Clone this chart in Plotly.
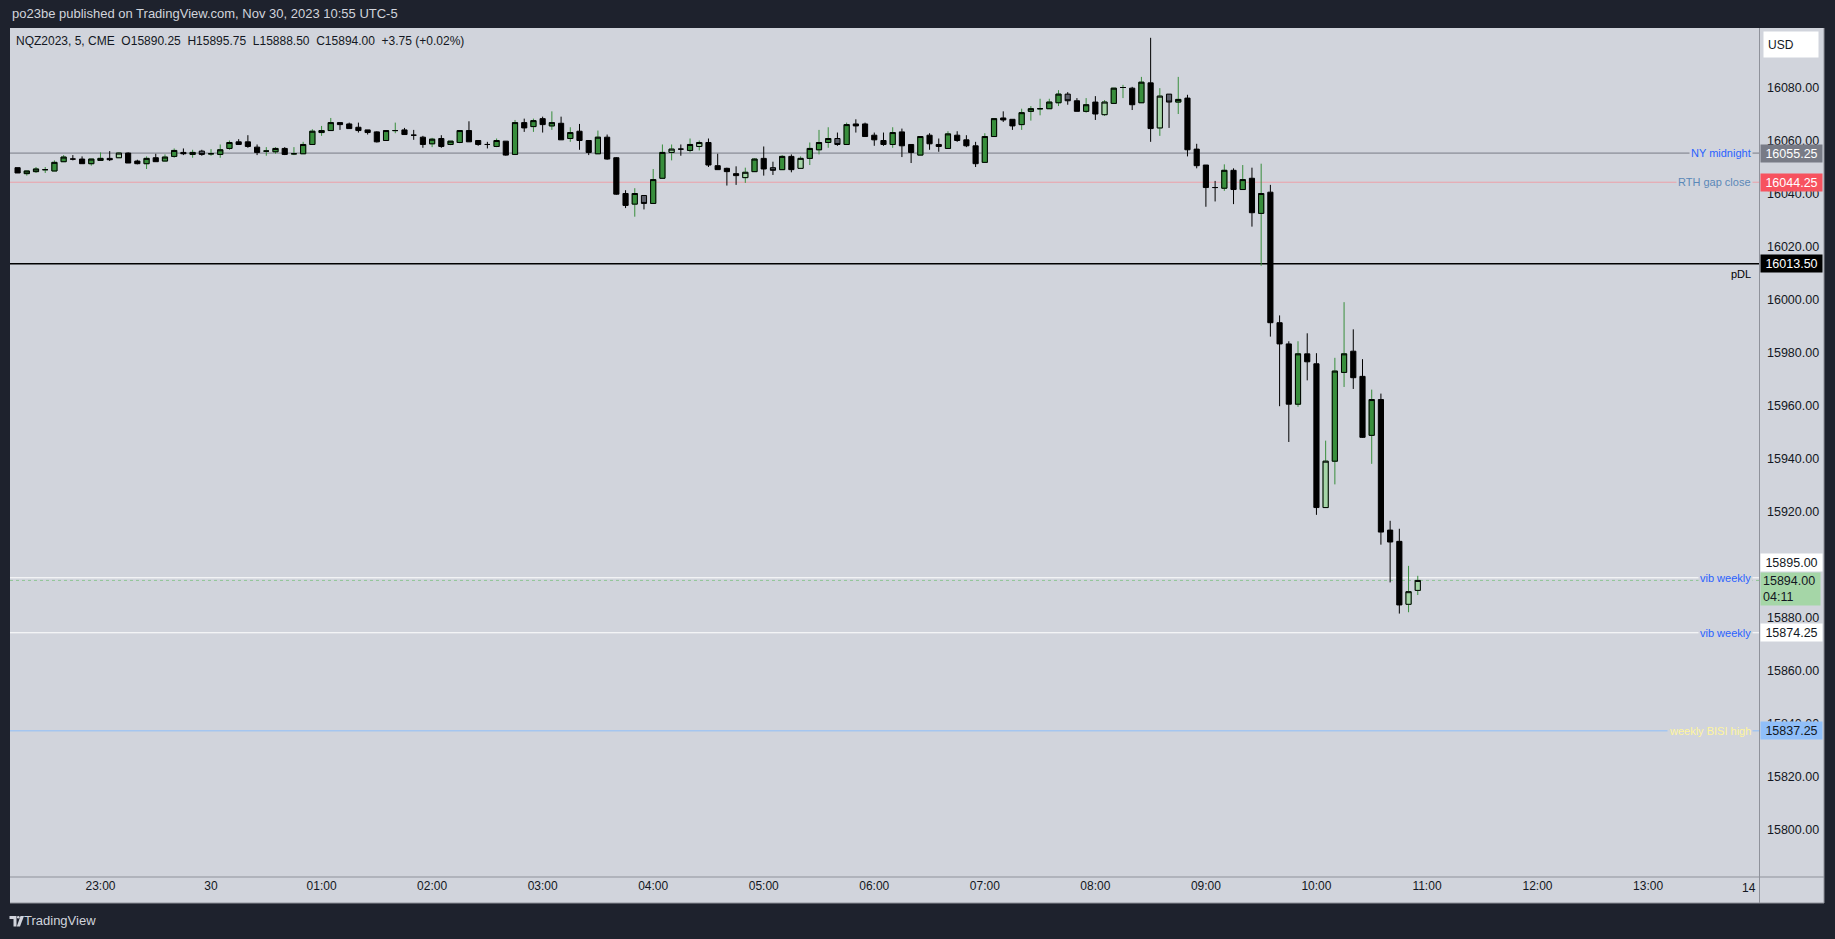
import plotly.graph_objects as go
import pandas as pd

# ---------------- data ----------------
bar_start = "2023-11-29 22:15"
bar_minutes = 5

opens = [
    16049.75, 16047.5, 16048.25, 16049, 16048.5, 16052, 16053, 16053, 16051.25, 16052.5,
    16053.25, 16053.5, 16055.25, 16052.25, 16051.25, 16053.5, 16052.25, 16054, 16055.5, 16054.75,
    16056, 16055, 16054.75, 16057, 16059.5, 16059.5, 16057.5, 16056, 16055.75, 16057,
    16055, 16055, 16058.5, 16063, 16063.75, 16066.75, 16066.25, 16065, 16064, 16063.25,
    16060, 16063.75, 16064, 16062, 16061.25, 16058.75, 16060.75, 16058.5, 16059.25, 16063.75,
    16060, 16058.5, 16057.75, 16059.75, 16054.75, 16066.75, 16065.25, 16068.25, 16065.5, 16066.5,
    16060.75, 16063.5, 16060, 16055, 16061.25, 16053.5, 16040, 16036, 16039.25, 16036.25,
    16045.75, 16055.5, 16056.75, 16056.25, 16057.75, 16059.25, 16050.5, 16049.5, 16047.5, 16046,
    16048.25, 16053.25, 16049.75, 16049, 16054, 16049.5, 16053.25, 16056.5, 16059.25, 16060.75,
    16058.5, 16066.25, 16066.25, 16062, 16060, 16058.5, 16063.25, 16058.5, 16054.5, 16062,
    16058.5, 16057, 16062, 16060.25, 16058, 16051.75, 16061.5, 16068.5, 16068, 16066,
    16071, 16072, 16072, 16074.25, 16077.5, 16075, 16071, 16074.5, 16069.75, 16074,
    16080, 16079.75, 16074.25, 16081.75, 16064.75, 16077.5, 16074.5, 16076, 16056.75, 16050.75,
    16042.25, 16042, 16048.75, 16041.5, 16045.75, 16032.5, 16040.5, 15991.25, 15983.25, 15960.5,
    15979.5, 15975.75, 15921.5, 15939, 15972.5, 15980.5, 15971, 15948.75, 15962.25, 15913,
    15908.75, 15885, 15890.25,
]
highs = [
    16049.75, 16048.5, 16050, 16050, 16052.5, 16054.5, 16054.5, 16054, 16053, 16055.5,
    16056, 16055.5, 16055.5, 16052.75, 16054, 16055, 16054.75, 16057, 16057, 16056.5,
    16056.5, 16056.75, 16058.5, 16060, 16060.5, 16062, 16058.5, 16057.5, 16057.5, 16057.5,
    16057.5, 16059.5, 16064.25, 16065.5, 16068.5, 16066.75, 16066.75, 16066.75, 16064, 16063.5,
    16063.75, 16066.75, 16064.75, 16064, 16061.75, 16061, 16062, 16059.75, 16063.75, 16067.25,
    16060, 16059.5, 16060.75, 16059.75, 16067.75, 16068.25, 16068.25, 16069, 16071, 16069,
    16065, 16066.25, 16060, 16063.75, 16062.25, 16053.75, 16041.25, 16042, 16039.25, 16049.25,
    16058.5, 16058.5, 16058.5, 16060.75, 16060, 16060.75, 16055, 16049.75, 16050.25, 16049.75,
    16053.25, 16057.75, 16052, 16054.5, 16054.75, 16054, 16059.25, 16064, 16065, 16063,
    16066.75, 16068, 16066.75, 16063, 16063, 16065, 16064.5, 16058.5, 16061.5, 16062.75,
    16060.75, 16063.5, 16063.5, 16062, 16059.5, 16062.75, 16068.25, 16071, 16068, 16072,
    16073, 16075.75, 16075.75, 16079, 16078.25, 16076, 16076, 16076.75, 16075.25, 16079.75,
    16081, 16080.25, 16084, 16098.75, 16079.75, 16077.5, 16084, 16077.25, 16058.75, 16050.75,
    16044.75, 16051, 16049.5, 16050.75, 16049.75, 16051.25, 16043.25, 15994, 15984.25, 15984.25,
    15987.25, 15979.75, 15946.75, 15978, 15999, 15988.75, 15977.5, 15966, 15964.5, 15916.5,
    15913.5, 15899.5, 15895.75,
]
lows = [
    16047.75, 16046.75, 16047.75, 16047.75, 16048.5, 16052, 16052.5, 16051.25, 16050.5, 16052.5,
    16052.25, 16053.5, 16051.5, 16051, 16049.25, 16052, 16052.25, 16053.5, 16054.5, 16053.5,
    16054.25, 16054.25, 16053.5, 16056.5, 16058.5, 16057.25, 16054.5, 16054.25, 16055, 16054.5,
    16054.5, 16055, 16058.5, 16061.75, 16063.75, 16064, 16064.5, 16063, 16062.25, 16059.25,
    16060, 16062.75, 16062.25, 16060.25, 16057.25, 16057.5, 16057.25, 16058.25, 16059, 16059.5,
    16058, 16057, 16057.5, 16054.25, 16054.5, 16063.25, 16063.25, 16063, 16064, 16060.25,
    16059.5, 16056.5, 16054.5, 16055, 16052.75, 16039.5, 16034.5, 16031.25, 16034, 16036.25,
    16045.75, 16052.5, 16054.25, 16055.5, 16056.25, 16050, 16049, 16043, 16043.25, 16044,
    16048.25, 16046.75, 16047, 16049, 16048, 16049.5, 16050.75, 16054.75, 16057.25, 16058,
    16058.5, 16063, 16061.5, 16058, 16058, 16057.25, 16053.75, 16051.5, 16054.5, 16056.5,
    16055.75, 16057, 16059.5, 16057.5, 16050, 16051.75, 16061.5, 16067, 16064, 16064,
    16067.5, 16069.5, 16072, 16073, 16073.5, 16071, 16070.5, 16067.75, 16069.25, 16074,
    16076, 16071.5, 16074.25, 16059.5, 16061.75, 16064.75, 16070, 16054, 16049.5, 16035,
    16037, 16041, 16036, 16041.5, 16027.5, 16012.75, 15986, 15959.75, 15946.25, 15959.5,
    15969.5, 15918.75, 15921.5, 15930.25, 15967, 15966.25, 15947.75, 15938, 15907.5, 15893.25,
    15881.5, 15882, 15888.5,
]
closes = [
    16047.75, 16048.5, 16049.25, 16049, 16051.75, 16053.75, 16053, 16051.25, 16053, 16053.25,
    16052.75, 16055.25, 16051.5, 16051.25, 16053.25, 16052, 16053.75, 16056.25, 16055, 16055.5,
    16054.75, 16055, 16056.5, 16059.25, 16058.5, 16057.75, 16055.5, 16056, 16057, 16054.75,
    16055, 16058.5, 16063.5, 16063.75, 16066.75, 16066, 16064.5, 16063.75, 16063, 16059.5,
    16063.75, 16063.75, 16062.25, 16062, 16058.5, 16060.5, 16057.75, 16059.75, 16063.75, 16059.5,
    16058.5, 16058.5, 16060, 16054.5, 16066.75, 16064.75, 16067.5, 16066, 16066.75, 16060.25,
    16063, 16060, 16055.5, 16061.25, 16053, 16039.75, 16035.5, 16040, 16036.25, 16045.25,
    16055.5, 16056.75, 16056.75, 16058.5, 16059.25, 16050.75, 16049, 16048.25, 16046.75, 16048,
    16053, 16049.25, 16048.75, 16054, 16049, 16053.25, 16057, 16059.25, 16060.75, 16058.5,
    16066, 16065.5, 16061.5, 16060.25, 16058.5, 16063, 16058, 16055.5, 16061.5, 16058.75,
    16057.75, 16062.5, 16060, 16058, 16051.25, 16061.5, 16068.25, 16067.75, 16065.5, 16070.5,
    16072, 16072, 16074.5, 16077.5, 16075, 16071, 16073.5, 16070, 16074.5, 16079.75,
    16080, 16073.5, 16082, 16064.5, 16076.75, 16074.5, 16075.5, 16056.5, 16050.5, 16042.25,
    16042.25, 16048.75, 16041.5, 16045.25, 16032.75, 16040, 15991.25, 15983.25, 15960.5, 15979.5,
    15976.5, 15921.5, 15939, 15973, 15979.5, 15970.5, 15948, 15962.25, 15912.25, 15908.5,
    15884.75, 15889.75, 15894,
]

# bar numbers (1-based) drawn with a special body colour
light_green_bars = [12, 72, 75, 80, 86, 119, 125, 143, 152, 153]
gray_bars = [21, 69, 83, 90, 115, 126]
green_wick_dojis = [4, 22, 28, 31, 42, 112, 121]

time_ticks = ["2023-11-29 23:00", "2023-11-30 00:00", "2023-11-30 01:00", "2023-11-30 02:00",
              "2023-11-30 03:00", "2023-11-30 04:00", "2023-11-30 05:00", "2023-11-30 06:00",
              "2023-11-30 07:00", "2023-11-30 08:00", "2023-11-30 09:00", "2023-11-30 10:00",
              "2023-11-30 11:00", "2023-11-30 12:00", "2023-11-30 13:00"]
time_tick_labels = ["23:00", "30", "01:00", "02:00", "03:00", "04:00", "05:00", "06:00",
                    "07:00", "08:00", "09:00", "10:00", "11:00", "12:00", "13:00"]
edge_label = "14"
x_range = ["2023-11-29 22:10:53", "2023-11-30 14:00:13"]

price_ticks = [15800, 15820, 15840, 15860, 15880, 15900, 15920, 15940,
               15960, 15980, 16000, 16020, 16040, 16060, 16080]
y_range = [15782.1, 16102.45]

level_prices = [16055.25, 16044.25, 16013.50, 15895.00, 15874.25, 15837.25]
level_names = ["NY midnight", "RTH gap close", "pDL", "vib weekly", "vib weekly", "weekly BISI high"]
last_price = 15894.00
countdown = "04:11"

header_text = "po23be published on TradingView.com, Nov 30, 2023 10:55 UTC-5"
symbol_text = "NQZ2023, 5, CME"
change_text = "+3.75 (+0.02%)"

# ---------------- styles ----------------
FONT = "Liberation Sans, Arial, sans-serif"
FRAME = "#1e222d"
PANEL = "#d1d4dc"
TXT = "#131722"
GREEN = "#388e3c"
LIGHT_GREEN = "#a5d6a7"
GRAY_BODY = "#5d606b"
SEP = "#8f929b"

level_line_colors = ["#787b86", "#eda0a8", "#000000", "#ffffff", "#ffffff", "#90bff9"]
level_line_widths = [1, 1, 1.6, 1, 1, 1]
level_text_colors = ["#2962ff", "#5b88b8", "#000000", "#2962ff", "#2962ff", "#fff59d"]
box_bg = ["#787b86", "#f7525f", "#000000", "#ffffff", "#ffffff", "#90bff9"]
box_fg = ["#ffffff", "#ffffff", "#ffffff", TXT, TXT, TXT]

W, H = 1835, 939
PL, PR, PT, PB = 10, 1759, 28, 877


def px_x(x):
    return (x - PL) / (PR - PL)


def px_y(y):
    return (PB - y) / (PB - PT)


times = pd.date_range(bar_start, periods=len(opens), freq=f"{bar_minutes}min")

groups = {"up": [], "up_light": [], "down": [], "down_gray": []}
for i in range(len(opens)):
    n = i + 1
    if n in light_green_bars:
        g = "up_light"
    elif n in gray_bars:
        g = "down_gray"
    elif closes[i] > opens[i] or n in green_wick_dojis:
        g = "up"
    else:
        g = "down"
    groups[g].append(i)


def candle(idx, line_color, fill, body_only=False):
    o = [opens[i] for i in idx]
    c = [closes[i] for i in idx]
    if body_only:
        h = [max(opens[i], closes[i]) for i in idx]
        l = [min(opens[i], closes[i]) for i in idx]
    else:
        h = [highs[i] for i in idx]
        l = [lows[i] for i in idx]
    st = dict(line=dict(color=line_color, width=1), fillcolor=fill)
    return go.Candlestick(x=[times[i] for i in idx], open=o, high=h, low=l, close=c,
                          increasing=st, decreasing=st, whiskerwidth=0,
                          hoverinfo="skip", showlegend=False)


fig = go.Figure()
fig.add_trace(candle(groups["up"], GREEN, GREEN))
fig.add_trace(candle(groups["up"], "#000000", GREEN, body_only=True))
fig.add_trace(candle(groups["up_light"], GREEN, LIGHT_GREEN))
fig.add_trace(candle(groups["up_light"], "#000000", LIGHT_GREEN, body_only=True))
fig.add_trace(candle(groups["down"], "#000000", "#000000"))
fig.add_trace(candle(groups["down_gray"], "#000000", GRAY_BODY))

shapes = []
# chart panel (plot + scales)
shapes.append(dict(type="rect", xref="paper", yref="paper", layer="below",
                   x0=px_x(PL), x1=px_x(1824), y0=px_y(PT), y1=px_y(903),
                   fillcolor=PANEL, line=dict(width=0)))
# current price line (faint, under the level lines)
shapes.append(dict(type="line", xref="paper", yref="y", layer="below",
                   x0=0, x1=1, y0=last_price, y1=last_price, opacity=0.6,
                   line=dict(color="#66bb6a", width=1, dash="dot")))
# level lines
for p, col, w in zip(level_prices, level_line_colors, level_line_widths):
    shapes.append(dict(type="line", xref="paper", yref="y", layer="below",
                       x0=0, x1=1, y0=p, y1=p, line=dict(color=col, width=w)))
# scale separators and panel edges
shapes.append(dict(type="line", xref="paper", yref="paper", x0=px_x(1759.5), x1=px_x(1759.5),
                   y0=px_y(PT), y1=px_y(903), line=dict(color=SEP, width=1)))
shapes.append(dict(type="line", xref="paper", yref="paper", x0=px_x(PL), x1=px_x(1824),
                   y0=px_y(877), y1=px_y(877), line=dict(color=SEP, width=1)))
shapes.append(dict(type="line", xref="paper", yref="paper", x0=px_x(1824), x1=px_x(1824),
                   y0=px_y(PT), y1=px_y(903), line=dict(color=SEP, width=1)))
shapes.append(dict(type="line", xref="paper", yref="paper", x0=px_x(PL), x1=px_x(1824),
                   y0=px_y(903), y1=px_y(903), line=dict(color=SEP, width=1)))


def path(pts):
    return "M " + " L ".join(f"{px_x(x):.5f},{px_y(y):.5f}" for x, y in pts) + " Z"


# TradingView logo
shapes.append(dict(type="path", xref="paper", yref="paper", line=dict(width=0), fillcolor="#d1d4dc",
                   path=path([(9.5, 916), (16.5, 916), (16.5, 926.5), (13.5, 926.5), (13.5, 919), (9.5, 919)])))
shapes.append(dict(type="circle", xref="paper", yref="paper", line=dict(width=0), fillcolor="#d1d4dc",
                   x0=px_x(17), x1=px_x(19.6), y0=px_y(916), y1=px_y(918.6)))
shapes.append(dict(type="path", xref="paper", yref="paper", line=dict(width=0), fillcolor="#d1d4dc",
                   path=path([(20.5, 916), (24, 916), (20, 926.5), (16.8, 926.5)])))

ann = []
ann.append(dict(text=header_text, xref="paper", yref="paper", x=px_x(10), y=px_y(13),
                xanchor="left", yanchor="middle", showarrow=False,
                font=dict(family=FONT, size=13, color="#d1d4dc")))
nb = "\u00a0\u00a0"
legend = (f"{symbol_text}{nb}O{opens[-1]:.2f}{nb}H{highs[-1]:.2f}{nb}L{lows[-1]:.2f}"
          f"{nb}C{closes[-1]:.2f}{nb}{change_text}")
ann.append(dict(text=legend, xref="paper", yref="paper", x=px_x(14), y=px_y(41),
                xanchor="left", yanchor="middle", showarrow=False,
                font=dict(family=FONT, size=12, color=TXT)))
ann.append(dict(text="TradingView", xref="paper", yref="paper", x=px_x(22), y=px_y(921),
                xanchor="left", yanchor="middle", showarrow=False,
                font=dict(family=FONT, size=13, color="#d1d4dc")))
ann.append(dict(text=edge_label, xref="paper", yref="paper", x=px_x(1758), y=px_y(888),
                xanchor="right", yanchor="middle", showarrow=False,
                font=dict(family=FONT, size=12, color=TXT)))
ann.append(dict(text="USD", xref="paper", yref="paper", x=px_x(1763), y=px_y(44),
                xanchor="left", yanchor="middle", showarrow=False, align="left",
                width=46, height=17, borderpad=4, bgcolor="#ffffff",
                font=dict(family=FONT, size=12, color=TXT)))

# level names on the chart
for p, name, col in zip(level_prices, level_names, level_text_colors):
    if name == "pDL":
        ann.append(dict(text=name, xref="paper", yref="y", x=px_x(1752.5), y=p,
                        xanchor="right", yanchor="top", yshift=-2, showarrow=False,
                        font=dict(family=FONT, size=11, color=col)))
    else:
        ann.append(dict(text=name, xref="paper", yref="y", x=px_x(1752.5), y=p,
                        xanchor="right", yanchor="middle", showarrow=False,
                        bgcolor=PANEL, borderpad=1,
                        font=dict(family=FONT, size=11, color=col)))

# price-scale labels
for p, bg, fg in zip(level_prices, box_bg, box_fg):
    a = dict(text=f"{p:.2f}", xref="paper", yref="y", x=px_x(1759.5), y=p,
             xanchor="left", yanchor="middle", showarrow=False, align="center",
             width=57, height=13, borderpad=2, bgcolor=bg,
             font=dict(family=FONT, size=12.5, color=fg))
    if abs(p - last_price) < 2:
        a.update(y=last_price, yanchor="bottom", yshift=8)
    ann.append(a)
ann.append(dict(text=f"{last_price:.2f}<br>{countdown}", xref="paper", yref="y",
                x=px_x(1759.5), y=last_price, xanchor="left", yanchor="top", yshift=8,
                showarrow=False, align="left", width=55, height=28, borderpad=2,
                bgcolor=LIGHT_GREEN, font=dict(family=FONT, size=12.5, color=TXT)))

fig.update_layout(
    width=W, height=H,
    margin=dict(l=PL, r=W - PR, t=PT, b=H - PB, pad=0),
    paper_bgcolor=FRAME, plot_bgcolor=PANEL,
    showlegend=False, hovermode=False, boxgap=0.2,
    shapes=shapes, annotations=ann,
    font=dict(family=FONT, size=12, color=TXT),
    xaxis=dict(type="date", range=x_range, tickvals=time_ticks, ticktext=time_tick_labels,
               showgrid=False, zeroline=False, showline=False, ticks="",
               rangeslider=dict(visible=False), tickfont=dict(family=FONT, size=12, color=TXT),
               fixedrange=True),
    yaxis=dict(side="right", range=y_range, tickvals=price_ticks,
               ticktext=[f"{p:.2f}" for p in price_ticks],
               showgrid=False, zeroline=False, showline=False, ticks="",
               ticklabelstandoff=7, tickfont=dict(family=FONT, size=12.5, color=TXT),
               fixedrange=True),
)

fig.write_html("out.html", config={"displayModeBar": False},
               post_script="document.body.style.margin='0';document.body.style.overflow='hidden';")
